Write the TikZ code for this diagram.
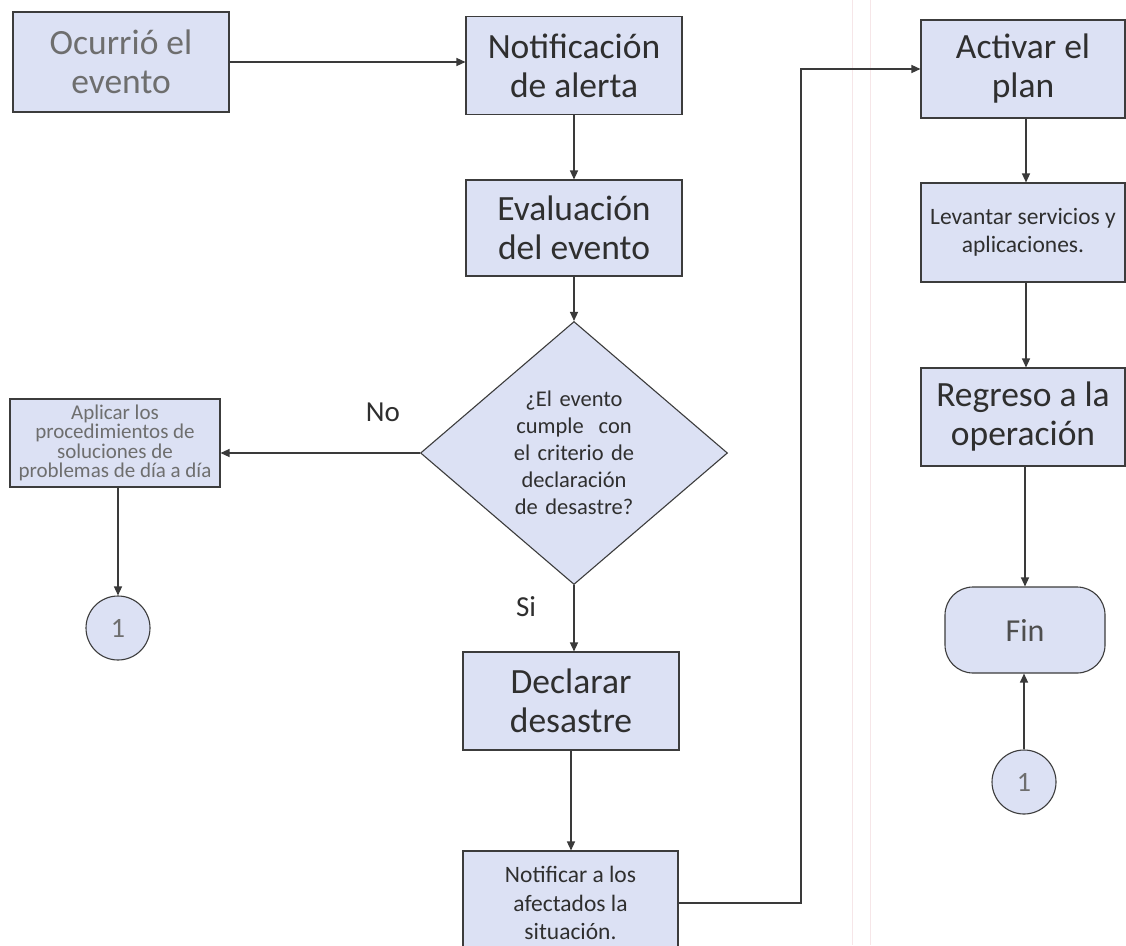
\documentclass[tikz,border=0pt]{standalone}
\usepackage{fontspec}
\setmainfont{Carlito}
\usetikzlibrary{arrows.meta,shapes.geometric}
\definecolor{fillc}{HTML}{DCE1F4}
\definecolor{bordc}{HTML}{3C3C3C}
\definecolor{txtc}{HTML}{2F2F2F}
\definecolor{graytxt}{HTML}{6E6E6E}
\definecolor{linec}{HTML}{3A3A3A}
\definecolor{scanline}{HTML}{F6E6E8}
\begin{document}
\begin{tikzpicture}[x=1pt,y=-1pt,
  box/.style={draw=bordc, line width=1.1pt, fill=fillc, minimum width=216pt,
    minimum height=98pt, inner sep=1pt, align=center, text=txtc},
  bigtxt/.style={font=\fontsize{35.5}{39}\selectfont},
  midtxt/.style={font=\fontsize{23.5}{28.5}\selectfont},
  smalltxt/.style={font=\fontsize{21}{19.5}\selectfont},
  decision/.style={diamond, draw=bordc, line width=1.1pt, fill=fillc,
    minimum width=307pt, minimum height=263pt, aspect=1.167, inner sep=0pt,
    text width=150pt, align=center, text=txtc, font=\fontsize{22.5}{27}\selectfont},
  conn/.style={circle, draw=bordc, line width=1.1pt, fill=fillc, minimum size=64pt,
    inner sep=0pt, text=graytxt, font=\fontsize{28}{30}\selectfont},
  term/.style={draw=bordc, line width=1.1pt, fill=fillc, rounded corners=28pt,
    minimum width=160pt, minimum height=86pt, text=txtc!85!white,
    font=\fontsize{32}{34}\selectfont},
  lbl/.style={text=txtc, font=\fontsize{29}{32}\selectfont},
  arr/.style={draw=linec, line width=1.3pt, -{Triangle[length=9pt,width=8pt]}},
  ]
\useasboundingbox (0,0) rectangle (1126,945);
\fill[white] (0,0) rectangle (1126,945);
% faint scan lines
\draw[scanline, line width=1pt] (852,0) -- (852,945);
\draw[scanline, line width=1pt] (870,0) -- (870,945);

% nodes
\node[box, bigtxt, text=graytxt, minimum height=100pt] (ocu) at (121,62) {Ocurrió el\\evento};
\node[box, bigtxt] (notif) at (574,65.5) {Notificación\\de alerta};
\node[box, bigtxt, minimum height=96pt] (eval) at (574,228) {Evaluación\\del evento};
\node[decision] (dec) at (574,453) {¿El evento\\cumple\ \ con\\el criterio de\\declaración\\de desastre?};
\node[box, smalltxt, text=graytxt, minimum width=210pt, minimum height=88pt] (apl) at (115,443)
  {Aplicar los\\procedimientos de\\soluciones de\\problemas de día a día};
\node[conn] (c1) at (118,628) {1};
\node[box, bigtxt] (decl) at (571,701) {Declarar\\desastre};
\node[box, midtxt, minimum width=215pt, minimum height=104pt] (notaf) at (570.5,903)
  {Notificar a los\\afectados la\\situación.};
\node[box, bigtxt, minimum width=204pt] (act) at (1023,69) {Activar el\\plan};
\node[box, midtxt, minimum width=204pt, minimum height=99pt] (lev) at (1023,232.5)
  {Levantar servicios y\\aplicaciones.};
\node[box, bigtxt, minimum width=204pt] (reg) at (1023,417) {Regreso a la\\operación};
\node[term] (fin) at (1025,630) {Fin};
\node[conn] (c2) at (1024,782) {1};

\node[lbl] (no) at (383,412) {No};
\node[lbl] (si) at (526,607) {Si};

% connectors
\draw[arr] (ocu.east) -- (ocu.east -| notif.west);
\draw[arr] (notif.south) -- (eval.north);
\draw[arr] (eval.south) -- (dec.north);
\draw[arr] (dec.west) -- (dec.west -| apl.east);
\draw[arr] (apl.south -| c1.north) -- (c1.north);
\draw[arr] (dec.south) -- (dec.south |- decl.north);
\draw[arr] (decl.south) -- (decl.south |- notaf.north);
\coordinate (k1) at (801,903);
\coordinate (k2) at (801,69);
\draw[arr] (notaf.east) -- (k1) -- (k2) -- (act.west);
\draw[arr] (act.south -| 1026,0) -- (lev.north -| 1026,0);
\draw[arr] (lev.south -| 1026,0) -- (reg.north -| 1026,0);
\draw[arr] (reg.south -| fin.north) -- (fin.north);
\draw[arr] (c2.north) -- (c2.north |- fin.south);
\end{tikzpicture}
\end{document}
